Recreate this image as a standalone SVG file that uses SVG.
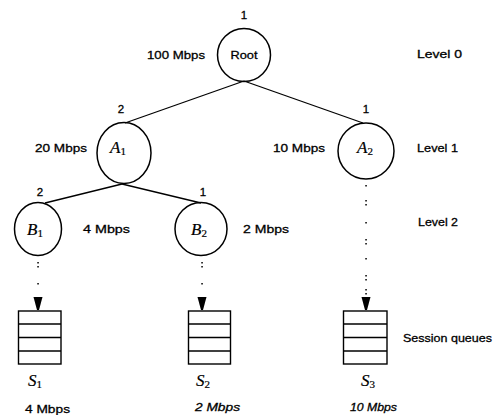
<svg xmlns="http://www.w3.org/2000/svg" width="497" height="415" viewBox="0 0 497 415">
  <style>
    .node { fill: none; stroke: #000; stroke-width: 1.5; }
    .edge { fill: none; stroke: #000; stroke-width: 1.3; }
    .queue { fill: none; stroke: #000; stroke-width: 1.4; }
    .lbl { font-family: "Liberation Sans", Arial, sans-serif; font-size: 11.5px; fill: #000; stroke: #000; stroke-width: 0.3; }
    .it { font-style: italic; }
    .math { font-family: "Liberation Serif", "Times New Roman", serif; font-style: italic; font-size: 17px; fill: #000; stroke: #000; stroke-width: 0.2; }
    .sub { font-family: "Liberation Serif", "Times New Roman", serif; font-style: normal; font-size: 11px; }
    .dot { fill: #000; }
    .head { fill: #000; }
  </style>

  <!-- tree edges -->
  <g id="connectors">
    <line class="edge" x1="244" y1="81" x2="125" y2="123"/>
    <line class="edge" x1="244" y1="81" x2="363" y2="123"/>
    <line class="edge" x1="122" y1="184" x2="45" y2="203"/>
    <line class="edge" x1="122" y1="184" x2="201" y2="203"/>

    <!-- dotted links down to the session queues -->
    <g id="link-b1">
      <rect class="dot" x="37.3" y="262" width="1.5" height="1.5"/>
      <rect class="dot" x="37.3" y="266" width="1.5" height="1.5"/>
      <rect class="dot" x="37.3" y="283" width="1.5" height="1.5"/>
      <polygon class="head" points="33.5,297 42.5,297 39,310 37,310"/>
    </g>
    <g id="link-b2">
      <rect class="dot" x="201.3" y="262" width="1.5" height="1.5"/>
      <rect class="dot" x="201.3" y="266" width="1.5" height="1.5"/>
      <rect class="dot" x="201.3" y="283" width="1.5" height="1.5"/>
      <polygon class="head" points="197.5,297 206.5,297 203,310 201,310"/>
    </g>
    <g id="link-a2">
      <rect class="dot" x="365.3" y="185" width="1.5" height="1.5"/>
      <rect class="dot" x="365.3" y="200" width="1.5" height="1.5"/>
      <rect class="dot" x="365.3" y="204" width="1.5" height="1.5"/>
      <rect class="dot" x="365.3" y="222" width="1.5" height="1.5"/>
      <rect class="dot" x="365.3" y="239" width="1.5" height="1.5"/>
      <rect class="dot" x="365.3" y="243" width="1.5" height="1.5"/>
      <rect class="dot" x="365.3" y="258" width="1.5" height="1.5"/>
      <rect class="dot" x="365.3" y="275" width="1.5" height="1.5"/>
      <rect class="dot" x="365.3" y="279" width="1.5" height="1.5"/>
      <rect class="dot" x="365.3" y="289" width="1.5" height="1.5"/>
      <rect class="dot" x="365.3" y="293" width="1.5" height="1.5"/>
      <polygon class="head" points="361.5,297 370.5,297 367,310 365,310"/>
    </g>
  </g>

  <!-- level 0 -->
  <g id="root">
    <circle class="node" cx="244" cy="55" r="26.5"/>
    <text class="lbl" x="244" y="59" text-anchor="middle" textLength="27" lengthAdjust="spacingAndGlyphs">Root</text>
    <text class="lbl" x="244" y="19" text-anchor="middle">1</text>
    <text class="lbl" x="147" y="59" textLength="58" lengthAdjust="spacingAndGlyphs">100 Mbps</text>
  </g>

  <!-- level 1 -->
  <g id="a1">
    <ellipse class="node" cx="124" cy="153" rx="27" ry="30.5"/>
    <text class="math" x="110" y="153">A<tspan class="sub" dy="2">1</tspan></text>
    <text class="lbl" x="121" y="113" text-anchor="middle">2</text>
    <text class="lbl" x="35" y="152" textLength="52" lengthAdjust="spacingAndGlyphs">20 Mbps</text>
  </g>
  <g id="a2">
    <ellipse class="node" cx="366" cy="151" rx="28" ry="28"/>
    <text class="math" x="357" y="153">A<tspan class="sub" dy="2">2</tspan></text>
    <text class="lbl" x="366" y="113" text-anchor="middle">1</text>
    <text class="lbl" x="273" y="152" textLength="52" lengthAdjust="spacingAndGlyphs">10 Mbps</text>
  </g>

  <!-- level 2 -->
  <g id="b1">
    <ellipse class="node" cx="38" cy="229" rx="23.5" ry="26.5"/>
    <text class="math" x="27" y="235">B<tspan class="sub" dy="2">1</tspan></text>
    <text class="lbl" x="40" y="196" text-anchor="middle">2</text>
    <text class="lbl" x="83" y="233" textLength="47" lengthAdjust="spacingAndGlyphs">4 Mbps</text>
  </g>
  <g id="b2">
    <ellipse class="node" cx="201" cy="229" rx="26" ry="26.5"/>
    <text class="math" x="191" y="235">B<tspan class="sub" dy="2">2</tspan></text>
    <text class="lbl" x="203" y="196" text-anchor="middle">1</text>
    <text class="lbl" x="243" y="233" textLength="46" lengthAdjust="spacingAndGlyphs">2 Mbps</text>
  </g>

  <!-- session queues -->
  <g id="s1">
    <rect class="queue" x="18.5" y="311" width="42.5" height="53"/>
    <line class="queue" x1="18.5" y1="324" x2="61" y2="324"/>
    <line class="queue" x1="18.5" y1="337.5" x2="61" y2="337.5"/>
    <line class="queue" x1="18.5" y1="351" x2="61" y2="351"/>
    <text class="math" x="28" y="386">S<tspan class="sub" dy="2">1</tspan></text>
    <text class="lbl" x="25" y="413" textLength="45" lengthAdjust="spacingAndGlyphs">4 Mbps</text>
  </g>
  <g id="s2">
    <rect class="queue" x="188.5" y="311" width="42" height="53"/>
    <line class="queue" x1="188.5" y1="324" x2="230.5" y2="324"/>
    <line class="queue" x1="188.5" y1="337.5" x2="230.5" y2="337.5"/>
    <line class="queue" x1="188.5" y1="351" x2="230.5" y2="351"/>
    <text class="math" x="196" y="386">S<tspan class="sub" dy="2">2</tspan></text>
    <text class="lbl it" x="195" y="411" textLength="45" lengthAdjust="spacingAndGlyphs">2 Mbps</text>
  </g>
  <g id="s3">
    <rect class="queue" x="343.5" y="311" width="43.5" height="53"/>
    <line class="queue" x1="343.5" y1="324" x2="387" y2="324"/>
    <line class="queue" x1="343.5" y1="337.5" x2="387" y2="337.5"/>
    <line class="queue" x1="343.5" y1="351" x2="387" y2="351"/>
    <text class="math" x="361" y="386">S<tspan class="sub" dy="2">3</tspan></text>
    <text class="lbl it" x="350" y="411" textLength="47" lengthAdjust="spacingAndGlyphs">10 Mbps</text>
  </g>

  <!-- level captions -->
  <g id="levels">
    <text class="lbl" x="417" y="58" textLength="45" lengthAdjust="spacingAndGlyphs">Level 0</text>
    <text class="lbl" x="417" y="152" textLength="41" lengthAdjust="spacingAndGlyphs">Level 1</text>
    <text class="lbl" x="418" y="226" textLength="40" lengthAdjust="spacingAndGlyphs">Level 2</text>
    <text class="lbl" x="403" y="342" textLength="89" lengthAdjust="spacingAndGlyphs">Session queues</text>
  </g>
</svg>
